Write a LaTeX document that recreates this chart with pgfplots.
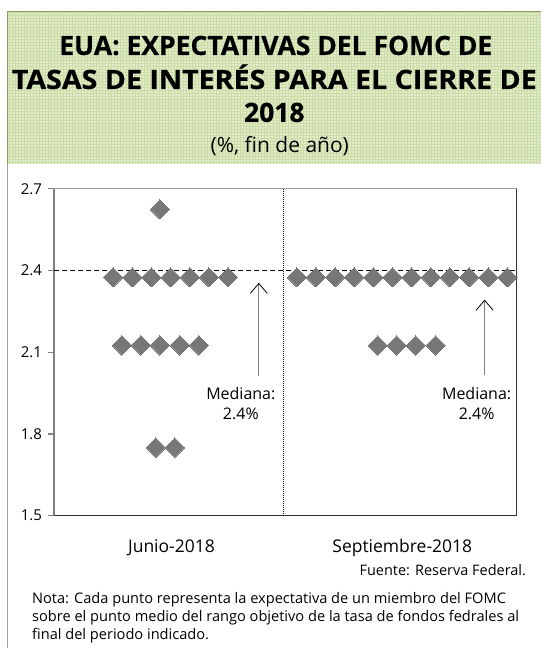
\documentclass[border=0pt]{standalone}
\usepackage{pgfplots}
\pgfplotsset{compat=1.18}
\usepackage{fontspec}
\setmainfont{Open Sans}
\newfontfamily\titlefont{Open Sans}[UprightFont={* Bold}, UprightFeatures={FakeBold=0.6}]
\usetikzlibrary{arrows.meta,patterns}
\definecolor{dotgray}{HTML}{777777}
\definecolor{boxgreen}{HTML}{E2ECCC}
\definecolor{gridgreen}{HTML}{CADDA4}
\definecolor{olive}{HTML}{8C9A66}
\definecolor{framegray}{HTML}{A0A0A0}
\begin{document}
\begin{tikzpicture}[x=1pt,y=-1pt]
\path (0,0) rectangle (541,648);
% title box
\fill[boxgreen] (8,12) rectangle (541,164);
\path[pattern=grid, pattern color=gridgreen] (8,12) rectangle (541,164);
\draw[olive, line width=1pt] (8,164) -- (8,12) -- (541,12);
\draw[framegray, line width=1pt] (8,164) -- (8,648);
\node[anchor=base, inner sep=0pt, font=\fontsize{26.5}{30}\titlefont] at (276,55) {EUA: EXPECTATIVAS DEL FOMC DE};
\node[anchor=base, inner sep=0pt, xscale=1.08, font=\fontsize{26.5}{30}\titlefont] at (274.5,89) {TASAS DE INTERÉS PARA EL CIERRE DE};
\node[anchor=base, inner sep=0pt, font=\fontsize{26.5}{30}\titlefont] at (274.5,122) {2018};
\node[anchor=base, inner sep=0pt, font=\fontsize{21}{24}\selectfont] at (280,153) {(\%, fin de año)};
\begin{axis}[
  at={(54pt,-516pt)}, anchor=south west,
  width=463pt, height=327pt, scale only axis,
  xmin=54, xmax=517, ymin=1.5, ymax=2.7,
  axis line style={draw=none},
  ytick={1.5,1.8,2.1,2.4,2.7},
  yticklabels={1.5,1.8,2.1,2.4,2.7},
  ytick pos=left,
  xtick={171.6,402.6},
  xticklabels={Junio-2018,Septiembre-2018},
  tick align=outside,
  major tick length=6pt,
  ytick style={draw=gray, line width=1.2pt},
  xtick style={draw=none},
  tick label style={font=\fontsize{15}{18}\selectfont},
  yticklabel style={xshift=-2.5pt},
  xticklabel style={font=\fontsize{17.5}{20}\selectfont, anchor=base, inner sep=0pt, yshift=-30.7pt},
  clip=false,
]
% frame
\draw[gray, line width=2.2pt] (rel axis cs:0,0) -- (rel axis cs:0,1);
\draw[framegray, line width=1pt] (rel axis cs:0,1) -- (rel axis cs:1,1);
\draw[black!80, line width=1pt] (rel axis cs:0,0) -- (rel axis cs:1,0) -- (rel axis cs:1,1);
\draw[black, line width=0.8pt, dash pattern=on 1pt off 1pt] (axis cs:284,1.5) -- (axis cs:284,2.7);
% median line
\addplot[black, line width=1.2pt, dash pattern=on 5pt off 3pt, forget plot] coordinates {(54,2.4) (515,2.4)};
% arrows
\draw[gray, line width=1pt, -{Straight Barb[length=10pt,width=17pt,color=black,line width=0.8pt]}] (axis cs:259,2.014) -- (axis cs:259,2.355);
\draw[gray, line width=1pt, -{Straight Barb[length=10pt,width=17pt,color=black,line width=0.8pt]}] (axis cs:485,2.017) -- (axis cs:485,2.293);
% dots
\addplot[only marks, color=dotgray, mark=square*, mark size=6.8pt, mark options={rotate=45, fill=dotgray, draw=dotgray, line width=0pt}] coordinates {
(113.2,2.375) (132.4,2.375) (151.5,2.375) (170.7,2.375) (189.9,2.375) (209.0,2.375) (228.2,2.375)
(160,2.625)
(122,2.125) (141,2.125) (160,2.125) (180,2.125) (199,2.125)
(156,1.75) (175,1.75)
};
\addplot[only marks, color=dotgray, mark=square*, mark size=6.8pt, mark options={rotate=45, fill=dotgray, draw=dotgray, line width=0pt}] coordinates {
(297,2.375) (316.2,2.375) (335.3,2.375) (354.5,2.375) (373.7,2.375) (392.8,2.375)
(412,2.375) (431.2,2.375) (450.3,2.375) (469.5,2.375) (488.7,2.375) (507.8,2.375)
(378,2.125) (397,2.125) (416,2.125) (436,2.125)
};
\end{axis}
\node[anchor=base, inner sep=0pt, font=\fontsize{16}{19}\selectfont] at (241,400) {Mediana:};
\node[anchor=base, inner sep=0pt, font=\fontsize{16}{19}\selectfont] at (241,419.5) {2.4\%};
\node[anchor=base, inner sep=0pt, font=\fontsize{16}{19}\selectfont] at (477,400) {Mediana:};
\node[anchor=base, inner sep=0pt, font=\fontsize{16}{19}\selectfont] at (477,419.5) {2.4\%};
\node[anchor=base east, inner sep=0pt, font=\fontsize{14.5}{17}\selectfont] at (526.6,576) {Fuente: Reserva Federal.};
\node[anchor=base west, inner sep=0pt, font=\fontsize{14.6}{17}\selectfont] at (32,604) {Nota: Cada punto representa la expectativa de un miembro del FOMC};
\node[anchor=base west, inner sep=0pt, font=\fontsize{14.6}{17}\selectfont] at (32,621.7) {sobre el punto medio del rango objetivo de la tasa de fondos fedrales al};
\node[anchor=base west, inner sep=0pt, font=\fontsize{14.6}{17}\selectfont] at (32,639.5) {final del periodo indicado.};
\end{tikzpicture}
\end{document}
